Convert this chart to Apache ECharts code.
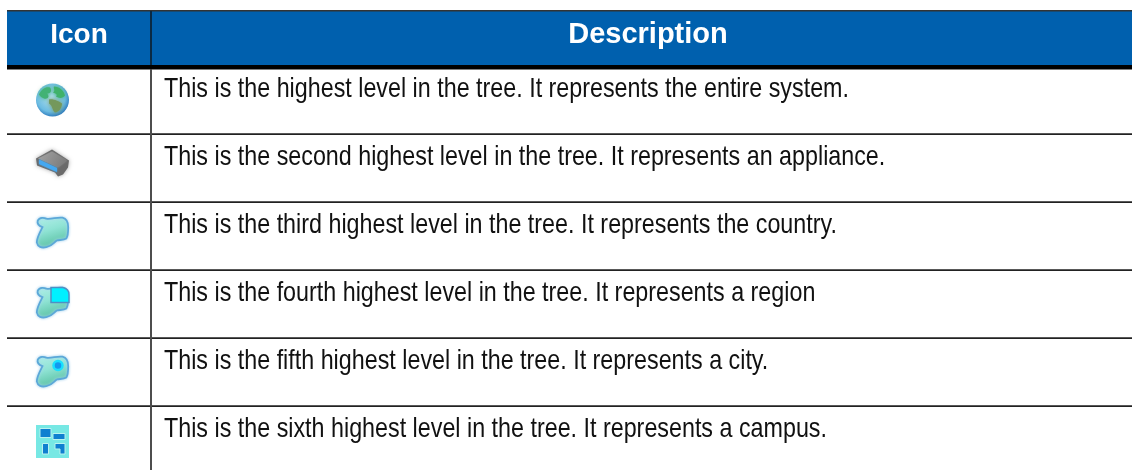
<!DOCTYPE html>
<html><head><meta charset="utf-8">
<style>html,body{margin:0;padding:0;background:#fff}#c{width:1132px;height:470px}</style>
<script src="https://cdn.jsdelivr.net/npm/echarts@6/dist/echarts.min.js"></script>
</head><body><div id="c"></div>
<script>
var headers = ['Icon', 'Description'];
var rowKinds = ['globe', 'appliance', 'country', 'region', 'city', 'campus'];
var descriptions = [
  'This is the highest level in the tree. It represents the entire system.',
  'This is the second highest level in the tree. It represents an appliance.',
  'This is the third highest level in the tree. It represents the country.',
  'This is the fourth highest level in the tree. It represents a region',
  'This is the fifth highest level in the tree. It represents a city.',
  'This is the sixth highest level in the tree. It represents a campus.'
];
var W = 1132, H = 470, L = 7, DIV = 151, TOP = 11, HB = 65, ROWH = 68;
var sans = '"Liberation Sans",Arial,sans-serif';
var blur = function (c, b) { return { shadowColor: c, shadowBlur: b === undefined ? 2 : b }; };

var MAP = 'M1 4 C3 0 8 1 10 2 C15 3 22 0 27 1 C31 2 33 6 33 11 C33 16 33 20 31 23 C28 25 23 24 21 25 C18 27 16 31 10 32 C5 33 1 32 0 27 C0 22 3 17 6 11 C3 10 0 8 1 4 Z';
var mapFill = { type: 'linear', x: 0, y: 0, x2: 0.3, y2: 1, colorStops: [{ offset: 0, color: '#b4f0ea' }, { offset: 0.5, color: '#8fe3d4' }, { offset: 1, color: '#5cc2a4' }] };
function mapShape() {
  return { type: 'path', shape: { pathData: MAP, x: 0.8, y: 0.8, width: 31.4, height: 30.4 },
    style: Object.assign({ fill: mapFill, stroke: '#5ca8d8', lineWidth: 1.8 }, blur('#a8d4ee', 3)) };
}
var icons = {
  globe: function () { return [
    { type: 'circle', shape: { cx: 16.5, cy: 16.5, r: 16.5 },
      style: { fill: { type: 'radial', x: 0.45, y: 0.42, r: 0.6, colorStops: [{ offset: 0, color: '#b4e2ef' }, { offset: 0.72, color: '#6cbce2' }, { offset: 1, color: '#2a78bc' }] } } },
    { type: 'path', shape: { pathData: 'M3 11 C6 5 10 3 14 4 C16 7 15 10 11 10 C14 13 12 16 8 15 C6 14 4 13 3 11 Z' }, style: Object.assign({ fill: '#42b274' }, blur('#42b274', 4)) },
    { type: 'path', shape: { pathData: 'M18 3 C23 3 28 7 29 12 C27 15 23 15 20 13 C22 11 20 10 17 9 C20 7 17 5 18 3 Z' }, style: Object.assign({ fill: '#3fb26a' }, blur('#3fb26a', 4)) },
    { type: 'path', shape: { pathData: 'M13 16 C17 15 23 18 26 20 C26 25 22 29 19 29 C16 27 17 22 13 20 Z' }, style: Object.assign({ fill: '#74985c' }, blur('#74985c', 4)) }
  ]; },
  appliance: function () { return [
    { type: 'path', shape: { pathData: 'M0 10 L16 1 L33 12 L32 19 L27 26 L22 28 L19 24 L1 17 Z' },
      style: Object.assign({ fill: '#6a6a6a' }, blur('#aaa', 4)) },
    { type: 'path', shape: { pathData: 'M2 10 L16 3 L31 12 L22 19 Z' }, style: Object.assign({ fill: { type: 'linear', x: 0, y: 0, x2: 1, y2: 1, colorStops: [{ offset: 0, color: '#a4a4a4' }, { offset: 1, color: '#767676' }] } }, blur('#888', 2)) },
    { type: 'path', shape: { pathData: 'M3 11 L21 19.5 L21 23.5 L3 15.5 Z' }, style: Object.assign({ fill: '#45a8f0' }, blur('#45a8f0', 2)) }
  ]; },
  country: function () { return [mapShape()]; },
  region: function () { return [mapShape(),
    { type: 'path', shape: { pathData: 'M15 1 L27 1 C31 2 33 5 33 8 L33 16 L15 16 Z' }, style: { fill: '#00f0ff', stroke: '#4f8fc4', lineWidth: 1.5 } }
  ]; },
  city: function () { return [mapShape(),
    { type: 'circle', shape: { cx: 22, cy: 10, r: 4.5 }, style: { fill: '#1398ee', stroke: '#18e0ff', lineWidth: 2.5 } }
  ]; },
  campus: function () {
    var b = function (d) { return { type: 'path', shape: { pathData: d }, style: { fill: '#0f7fd0', stroke: '#b8f2f0', lineWidth: 1 } }; };
    return [
      { type: 'rect', shape: { x: 0, y: 0, width: 33, height: 33 }, style: { fill: '#77e8e4' } },
      b('M4 3.5 L15 3.5 L15 12.5 L4 12.5 Z'), b('M17 8.5 L29 8.5 L29 14.5 L17 14.5 Z'), b('M6.5 18.5 L12.5 18.5 L12.5 29 L6.5 29 Z'),
      b('M19 18.5 L29 18.5 L29 29 L24 29 L24 24 L19 24 Z')
    ];
  }
};
var iconCenterY = [100, 165, 233, 303, 372, 441.5];

function renderRow(p, api) {
  var i = api.value(0);
  return { type: 'group', children: [
    { type: 'text', x: 164, y: 89.5 + i * ROWH, scaleX: 0.832, scaleY: 1,
      style: { x: 0, y: 0, text: descriptions[i], fill: '#111', font: '28px ' + sans, textAlign: 'left', textVerticalAlign: 'middle' } },
    { type: 'group', x: 36, y: iconCenterY[i] - 16.5, children: icons[rowKinds[i]]() }
  ] };
}

var chart = echarts.init(document.getElementById('c'), null, { renderer: 'canvas' });
var hLines = rowKinds.slice(0, 5).map(function (k, i) {
  return { type: 'rect', shape: { x: L, y: 133.3 + i * ROWH, width: W - L, height: 1.7 }, style: { fill: '#222' } };
});
chart.setOption({
  animation: false, backgroundColor: '#fff',
  grid: { left: 0, right: 0, top: 0, bottom: 0 },
  xAxis: { type: 'value', min: 0, max: 1, show: false },
  yAxis: { type: 'category', data: rowKinds, show: false, inverse: true },
  graphic: { elements: [
    { type: 'rect', shape: { x: L, y: TOP, width: W - L, height: HB - TOP }, style: { fill: '#0060AE' }, z: 1 },
    { type: 'rect', shape: { x: L, y: TOP - 1, width: W - L, height: 1.6 }, style: { fill: '#333' }, z: 2 },
    { type: 'rect', shape: { x: L, y: HB, width: W - L, height: 4.5 }, style: { fill: '#000' }, z: 2 }
  ].concat(hLines).concat([
    { type: 'rect', shape: { x: DIV - 1, y: TOP, width: 2, height: HB - TOP }, style: { fill: '#0a2a44' }, z: 3 },
    { type: 'rect', shape: { x: DIV - 1, y: 69, width: 2, height: H - 69 }, style: { fill: '#4d4d4d' }, z: 3 },
    { type: 'text', z: 4, style: { x: 79, y: 35, text: headers[0], fill: '#fff', font: 'bold 28px ' + sans, textAlign: 'center', textVerticalAlign: 'middle' } },
    { type: 'text', z: 4, style: { x: 648, y: 35, text: headers[1], fill: '#fff', font: 'bold 29px ' + sans, textAlign: 'center', textVerticalAlign: 'middle' } }
  ]) },
  series: [{ type: 'custom', coordinateSystem: 'cartesian2d', renderItem: renderRow, clip: false,
    encode: { x: 1, y: 0 }, data: rowKinds.map(function (k, i) { return [i, 0]; }) }]
});
</script></body></html>
